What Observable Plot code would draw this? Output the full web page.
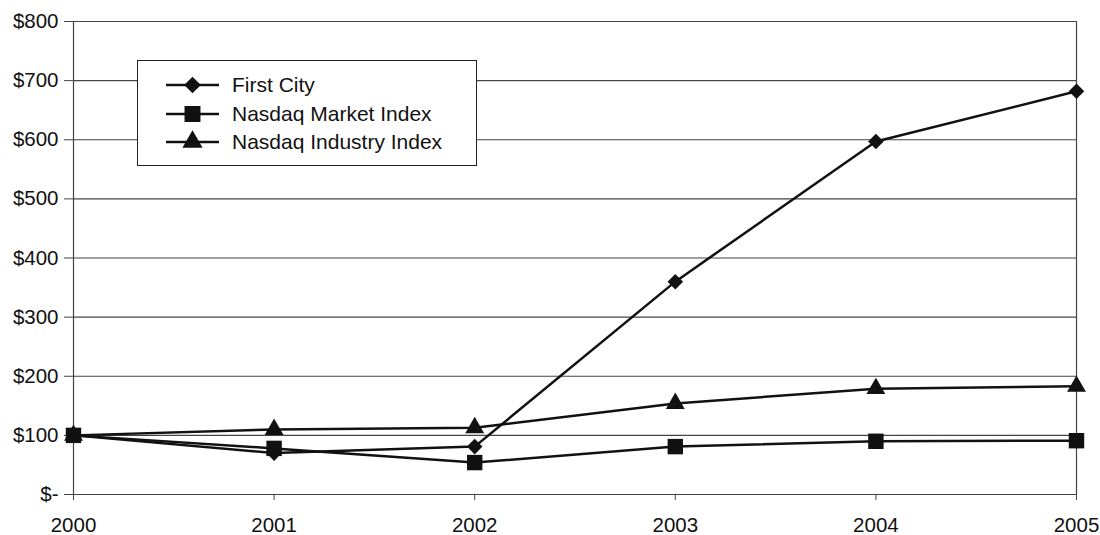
<!DOCTYPE html>
<html>
<head>
<meta charset="utf-8">
<script src="https://cdn.jsdelivr.net/npm/d3@7"></script>
<script src="https://cdn.jsdelivr.net/npm/@observablehq/plot@0.6"></script>
<style>
  body { margin: 0; background: #fff; font-family: "Liberation Sans", Arial, sans-serif; }
  #wrap { position: relative; width: 1100px; height: 535px; }
  #legend { position: absolute; left: 137px; top: 60px; width: 338px; height: 104px;
    border: 1px solid #222; background: #fff; box-sizing: content-box; }
  .item { position: absolute; left: 28px; height: 24px; display: flex; align-items: center;
    font-size: 21px; color: #111; }
  .item svg { margin-right: 13px; }
</style>
</head>
<body>
<div id="wrap"><div id="legend"></div></div>
<script>
const years = [2000, 2001, 2002, 2003, 2004, 2005];
const seriesNames = ["First City", "Nasdaq Market Index", "Nasdaq Industry Index"];
const firstCity = [100, 70, 81, 360, 597, 682];
const nasdaqMarket = [100, 78, 54, 81, 90, 91];
const nasdaqIndustry = [100, 110, 113, 154, 179, 183];
const yTicks = [0, 100, 200, 300, 400, 500, 600, 700, 800];
const symbols = ["diamond2", "square", "triangle"];

const valuesBySeries = [firstCity, nasdaqMarket, nasdaqIndustry];
const data = [];
seriesNames.forEach((s, i) => years.forEach((y, j) => data.push({series: s, year: y, value: valuesBySeries[i][j]})));

const chart = Plot.plot({
  width: 1100,
  height: 535,
  marginLeft: 73,
  marginRight: 24,
  marginTop: 21,
  marginBottom: 41,
  style: {fontFamily: "Liberation Sans, Arial, sans-serif", fontSize: "20.5px", color: "#111", background: "#fff"},
  x: {domain: [2000, 2005]},
  y: {domain: [0, 800]},
  symbol: {domain: seriesNames, range: symbols},
  marks: [
    Plot.gridY(yTicks, {stroke: "#444", strokeOpacity: 1, strokeWidth: 1.2}),
    Plot.ruleX([2000], {stroke: "#444", strokeWidth: 1.2}),
    Plot.ruleX([2005], {stroke: "#444", strokeWidth: 1.2}),
    Plot.axisY(yTicks, {tickSize: 9, tickPadding: 6, label: null, fontSize: 20.5,
      tickFormat: d => d === 0 ? "$-" : "$" + d, stroke: "#444"}),
    Plot.axisX(years, {tickSize: 6, tickPadding: 17, label: null, fontSize: 20.5,
      tickFormat: d => String(d), stroke: "#444"}),
    Plot.line(data, {x: "year", y: "value", z: "series", stroke: "#111", strokeWidth: 2.5}),
    Plot.dot(data, {x: "year", y: "value", symbol: "series", fill: "#111", stroke: "none", r: 8.7,
      filter: d => d.series === "Nasdaq Market Index"}),
    Plot.dot(data, {x: "year", y: "value", symbol: "series", fill: "#111", stroke: "none", r: 7,
      filter: d => d.series !== "Nasdaq Market Index"})
  ]
});
document.getElementById("wrap").prepend(chart);

// legend
const legend = document.getElementById("legend");
const tops = [12, 41, 69];
const sizes = [7.5, 9, 7.5];
seriesNames.forEach((name, i) => {
  const item = document.createElement("div");
  item.className = "item";
  item.style.top = tops[i] + "px";
  const svg = d3.create("svg").attr("width", 53).attr("height", 24);
  svg.append("line").attr("x1", 0).attr("x2", 53).attr("y1", 12).attr("y2", 12)
    .attr("stroke", "#111").attr("stroke-width", 2.5);
  const symType = [d3.symbolDiamond2, d3.symbolSquare, d3.symbolTriangle][i];
  svg.append("path").attr("transform", "translate(26.5,12)")
    .attr("d", d3.symbol(symType, sizes[i] * sizes[i] * Math.PI)()).attr("fill", "#111");
  item.appendChild(svg.node());
  const t = document.createElement("span");
  t.textContent = name;
  item.appendChild(t);
  legend.appendChild(item);
});
</script>
</body>
</html>
